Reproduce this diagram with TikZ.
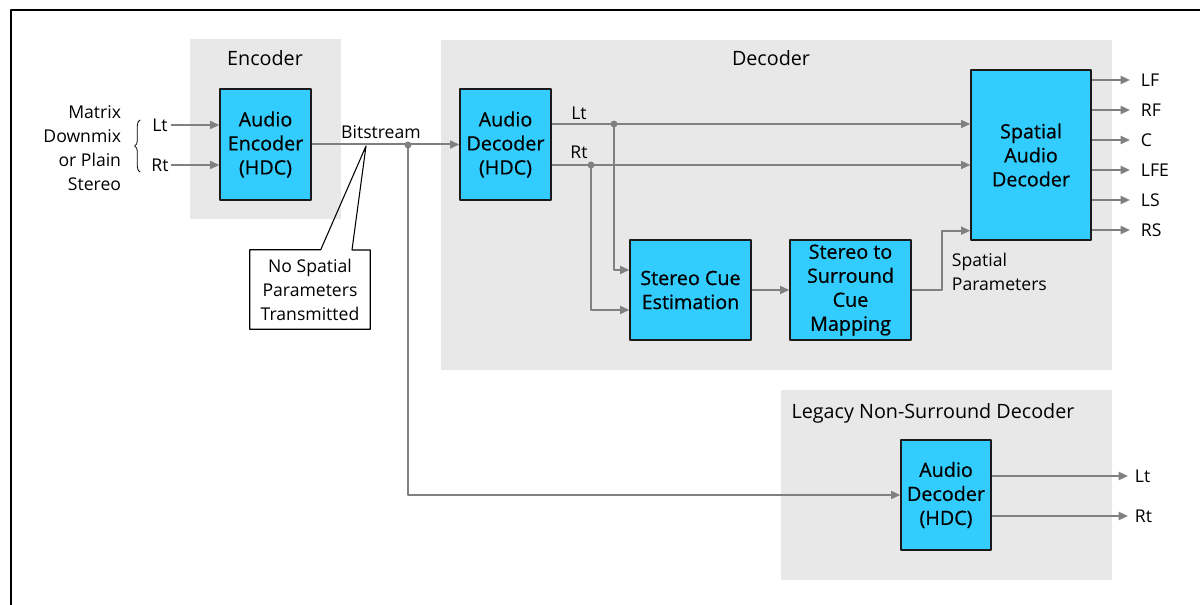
\documentclass[tikz,border=0pt]{standalone}
\usepackage{fontspec}
\setmainfont{Open Sans}
\newfontfamily\boxfont{Open Sans}[FakeBold=0.6]
\usetikzlibrary{arrows.meta,decorations.pathreplacing}
\definecolor{boxblue}{HTML}{33CCFF}
\definecolor{panelgray}{HTML}{E8E8E8}
\definecolor{wiregray}{HTML}{808080}
\tikzset{
  blk/.style={draw=black!90,line width=1pt,fill=boxblue,align=center,inner sep=0pt,font=\boxfont\fontsize{14.8}{18}\selectfont},
  sig/.style={draw=wiregray,line width=1.5pt},
  lbl/.style={inner sep=2pt,font=\fontsize{13.2}{18}\selectfont},
  title/.style={font=\fontsize{14.8}{17}\selectfont}
}
\begin{document}
\begin{tikzpicture}[x=0.75pt,y=-0.75pt,>={Triangle[length=7pt,width=6pt]}, line join=round]
	\useasboundingbox (0,0) rectangle (1200,605);
	\draw[line width=1.5pt] (11,605)--(11,10)--(1200,10);
	% panels
	\fill[panelgray] (190,39) rectangle (341,219);
	\fill[panelgray] (441,40) rectangle (1112,370);
	\fill[panelgray] (781,390) rectangle (1112,580);
	\node[title] at (265,58) {Encoder};
	\node[title] at (771,58) {Decoder};
	\node[title] at (933,413) {Legacy Non-Surround Decoder};
	% blocks
	\node[blk,minimum width=68.25pt,minimum height=83.25pt] (enc) at (265.5,144.5) {Audio\\Encoder\\(HDC)};
	\node[blk,minimum width=68.25pt,minimum height=83.25pt] (adec) at (505.5,144.5) {Audio\\Decoder\\(HDC)};
	\node[blk,minimum width=90.75pt,minimum height=75pt] (sce) at (690.5,290) {Stereo Cue\\Estimation};
	\node[blk,minimum width=90.75pt,minimum height=75pt] (sscm) at (850.5,290) {Stereo to\\Surround\\Cue\\Mapping};
	\node[blk,minimum width=90pt,minimum height=127.5pt] (sad) at (1031,155) {Spatial\\Audio\\Decoder};
	\node[blk,minimum width=67.5pt,minimum height=82.5pt] (legdec) at (946,495) {Audio\\Decoder\\(HDC)};
	% encoder input
	\node[lbl,align=right,anchor=east] (srcnote) at (124,148) {Matrix\\Downmix\\or Plain\\Stereo};
	\draw[decorate,decoration={brace,amplitude=4pt},line width=0.6pt] (140,172) -- (140,120);
	\node[lbl] (inlt) at (160,125) {Lt};
	\node[lbl] (inrt) at (160,165) {Rt};
	\draw[sig,->] (inlt.east) -- (enc.west |- inlt);
	\draw[sig,->] (inrt.east) -- (enc.west |- inrt);
	% bitstream
	\draw[sig,->] (enc) -- (adec);
	\node[lbl] (bslbl) at (381,132) {Bitstream};
	\coordinate (bs) at (408,145);
	\fill[wiregray] (bs) circle (2.6pt);
	\draw[sig,->] (bs) |- (legdec.west);
	% callout
	\node[lbl,align=center,minimum width=90pt,minimum height=59.25pt] (nospat) at (310,289.5) {No Spatial\\Parameters\\Transmitted};
	\coordinate (tip) at (366,146);
	\draw[line width=0.8pt] (nospat.north west) -- ++(71,0) -- (tip) -- ++(-14,104) -| (nospat.south east) -| cycle;
	% decoder signals
	\coordinate (ltdot) at (614,124);
	\coordinate (rtdot) at (591,165);
	\draw[sig,->] (adec.east |- ltdot) -- (sad.west |- ltdot);
	\draw[sig,->] (adec.east |- rtdot) -- (sad.west |- rtdot);
	\node[lbl] (ltlbl) at (579,113) {Lt};
	\node[lbl] (rtlbl) at (579,152) {Rt};
	\fill[wiregray] (ltdot) circle (2.6pt) (rtdot) circle (2.6pt);
	\draw[sig,->] (ltdot) |- ([yshift=15pt]sce.west);
	\draw[sig,->] (rtdot) |- ([yshift=-15pt]sce.west);
	\draw[sig,->] (sce) -- (sscm);
	\draw[sig,->] (sscm.east) -- ++(30,0) |- ([yshift=7.5pt]sad.south west);
	\node[lbl,align=left,anchor=north west] (spatlbl) at (949,250) {Spatial\\Parameters};
	% outputs
	\foreach \y/\t in {80/LF,110/RF,140/C,170/LFE,200/LS,230/RS}{
		\node[lbl,anchor=west,inner xsep=8pt] (o\t) at (1130,\y) {\t};
		\draw[sig,->] (sad.east |- o\t) -- (o\t.west);
	}
	\node[lbl,anchor=west,inner xsep=5pt] (legLt) at (1128,476) {Lt};
	\node[lbl,anchor=west,inner xsep=5pt] (legRt) at (1128,516) {Rt};
	\draw[sig,->] (legdec.east |- legLt) -- (legLt.west);
	\draw[sig,->] (legdec.east |- legRt) -- (legRt.west);
\end{tikzpicture}
\end{document}
